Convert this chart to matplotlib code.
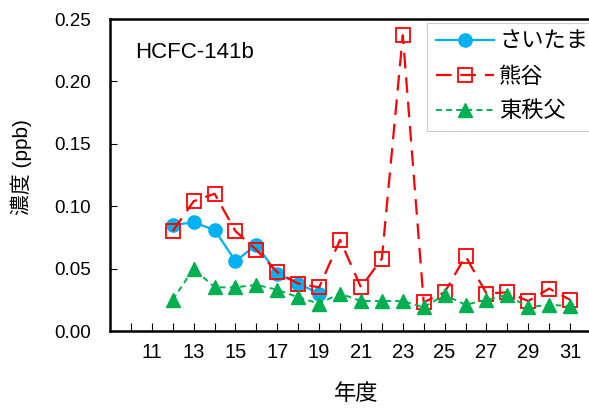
import matplotlib
matplotlib.use('Agg')
import matplotlib.pyplot as plt
from matplotlib.ticker import FixedLocator

plt.rcParams['font.family'] = ['Liberation Sans', 'Noto Sans CJK JP', 'DejaVu Sans']

years = list(range(12, 32))
saitama = [0.085, 0.087, 0.081, 0.056, 0.069, 0.046, 0.038, 0.030]
kumagaya = [0.080, 0.104, 0.110, 0.080, 0.065, 0.047, 0.038, 0.035, 0.073, 0.035,
            0.058, 0.237, 0.023, 0.031, 0.060, 0.030, 0.031, 0.024, 0.034, 0.025]
higashichichibu = [0.025, 0.050, 0.035, 0.035, 0.037, 0.033, 0.027, 0.022, 0.030, 0.024,
                   0.024, 0.024, 0.019, 0.029, 0.021, 0.025, 0.029, 0.019, 0.021, 0.020]
y_ticks = [0.0, 0.05, 0.10, 0.15, 0.20, 0.25]
x_ticks = list(range(11, 32, 2))

fig = plt.figure(figsize=(5.89, 4.08), dpi=100)
ax = fig.add_axes([110 / 589, 77 / 408, 481 / 589, 312 / 408])

ax.plot(years[:len(saitama)], saitama, color='#00B0F0', lw=1.6, marker='o',
        markersize=9.5, label='さいたま', zorder=3)
ax.plot(years, kumagaya, color='#FF0000', lw=1.6, dashes=(7, 4), marker='s',
        markersize=9.5, markerfacecolor='none', markeredgewidth=1.3,
        label='熊谷', zorder=4)
ax.plot(years, higashichichibu, color='#00B050', lw=1.4, dashes=(3, 2.2), marker='^',
        markersize=9.5, label='東秩父', zorder=5)

ax.set_xlim(9, 32)
ax.set_ylim(0, 0.25)
ax.set_yticks(y_ticks)
ax.set_yticklabels([f'{v:.2f}' for v in y_ticks])
ax.set_xticks(x_ticks)
ax.set_xticklabels([str(x) for x in x_ticks])
ax.xaxis.set_minor_locator(FixedLocator(range(10, 32)))
ax.tick_params(axis='both', which='both', direction='in')
ax.tick_params(axis='x', which='both', length=6, width=0.8, pad=8.5, labelsize=14.5)
ax.tick_params(axis='y', length=5, width=0.8, pad=14, labelsize=13.5)

for s in ['left', 'bottom', 'top']:
    ax.spines[s].set_linewidth(1.8)
ax.spines['right'].set_visible(False)

fig.text(21 / 589, 1 - 167 / 408, '濃度 (ppb)', rotation=90, fontsize=15,
         ha='center', va='center')
fig.text(356 / 589, 1 - 395 / 408, '年度', fontsize=16, ha='center', va='center')

ax.text(135 / 589, 1 - 53 / 408, 'HCFC-141b', transform=fig.transFigure, fontsize=16,
        va='center', ha='left')

leg = ax.legend(loc='upper left', bbox_to_anchor=(427 / 589, 1 - 23 / 408),
                bbox_transform=fig.transFigure,
                fontsize=16, frameon=True, fancybox=False, edgecolor='#BFBFBF',
                handlelength=2.6, borderaxespad=0, labelspacing=0.62,
                borderpad=0.4, handletextpad=0.25)
leg.get_frame().set_linewidth(0.8)

fig.savefig('out.png', dpi=100)
